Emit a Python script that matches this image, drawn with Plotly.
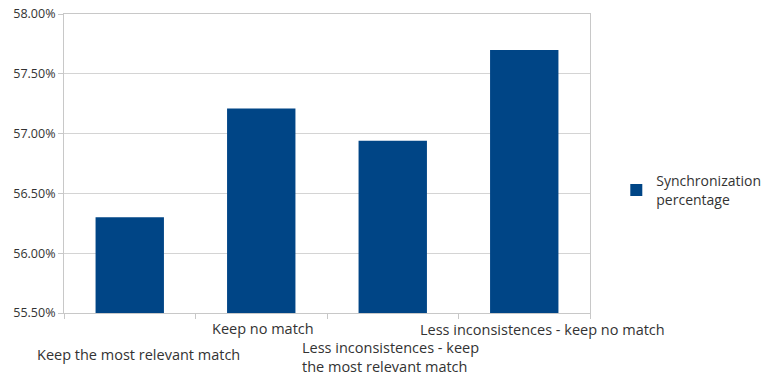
import plotly.graph_objects as go

categories = ["Keep the most relevant match", "Keep no match",
              "Less inconsistences - keep the most relevant match",
              "Less inconsistences - keep no match"]
label_text = ["Keep the most relevant match", "Keep no match",
              "Less inconsistences - keep<br>the most relevant match",
              "Less inconsistences - keep no match"]
values = [56.30, 57.21, 56.94, 57.70]
series_name = "Synchronization<br>percentage"
y_ticks = [55.5, 56.0, 56.5, 57.0, 57.5, 58.0]

fig = go.Figure()
fig.add_trace(go.Bar(x=categories, y=values, name=series_name,
                     marker=dict(color="#004586", line=dict(width=0)),
                     showlegend=True))

# label placements (style only): xshift, offset below plot, alignment
label_style = [(9, 30, "center"), (2, 4, "center"), (-2, 23, "left"), (18, 5, "center")]
for cat, txt, (xs, ys, al) in zip(categories, label_text, label_style):
    fig.add_annotation(x=cat, xref="x", y=0, yref="paper", text=txt,
                       showarrow=False, yanchor="top", xanchor="center",
                       xshift=xs, yshift=-ys, align=al,
                       font=dict(family="Open Sans", size=14.5, color="#333333"))

fig.update_layout(
    width=767, height=376,
    margin=dict(l=64, r=177, t=14, b=63, autoexpand=False),
    paper_bgcolor="white", plot_bgcolor="white",
    bargap=0.48,
    font=dict(family="Open Sans", size=12, color="#333333"),
    legend=dict(x=1.05, y=0.41, xanchor="left", yanchor="middle",
                font=dict(family="Open Sans", size=14, color="#333333"),
                bgcolor="rgba(0,0,0,0)", itemwidth=30),
)
fig.update_xaxes(range=[-0.5, 3.5], showticklabels=False, showgrid=False,
                 showline=True, linecolor="#c8c8c8", linewidth=1, mirror=True,
                 ticks="outside", tickson="boundaries", ticklen=5,
                 tickcolor="#c8c8c8")
fig.update_yaxes(range=[55.5, 58.0], tickvals=y_ticks,
                 ticktext=[f"{v:.2f}%" for v in y_ticks],
                 showgrid=True, gridcolor="#d4d4d4", gridwidth=1,
                 showline=True, linecolor="#c8c8c8", mirror=True,
                 ticks="outside", ticklen=5, tickcolor="#c8c8c8",
                 tickfont=dict(family="Open Sans", size=12.5, color="#333333"),
                 zeroline=False)

fig.write_html("out.html")
